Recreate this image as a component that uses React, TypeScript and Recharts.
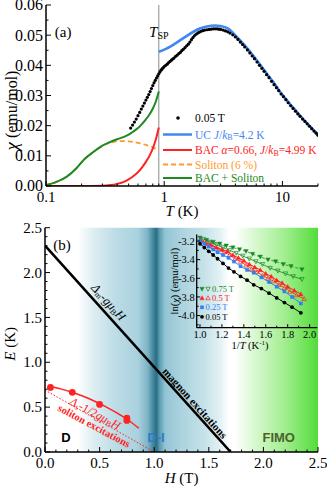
import React from 'react';
import {
  ComposedChart,
  Line,
  XAxis,
  YAxis,
  ReferenceLine,
  ReferenceArea,
  ReferenceDot,
} from 'recharts';

document.body.style.margin = '0';

const SERIF = '"Liberation Serif", "Times New Roman", serif';
const SANS = '"Liberation Sans", Arial, sans-serif';

// ---- panel (a): susceptibility vs T ----
const tMajor = [0.1, 1, 10];
const tMinor = [0.2, 0.3, 0.4, 0.5, 0.6, 0.7, 0.8, 0.9, 2, 3, 4, 5, 6, 7, 8, 9, 20];
const chiMajor = [0, 0.01, 0.02, 0.03, 0.04, 0.05, 0.06];
const chiMinor = [0.005, 0.015, 0.025, 0.035, 0.045, 0.055];
const tSP = 0.9;

const dotT = [
  0.52, 0.54, 0.56, 0.58, 0.6, 0.62, 0.64, 0.66, 0.68, 0.7, 0.72, 0.74, 0.76, 0.78, 0.8, 0.82,
  0.84, 0.86, 0.88, 0.9, 0.92, 0.94, 0.96, 0.98, 1.0, 1.03, 1.06, 1.09, 1.12, 1.15, 1.18, 1.21,
  1.25, 1.29, 1.33, 1.37, 1.41, 1.45, 1.5, 1.55, 1.6, 1.65, 1.7, 1.75, 1.8, 1.86, 1.92, 1.98,
  2.05, 2.12, 2.2, 2.3, 2.4, 2.5, 2.6, 2.7, 2.8, 2.9, 3.0, 3.15, 3.3, 3.45, 3.6, 3.8, 4.0, 4.2,
  4.4, 4.6, 4.8, 5.05, 5.3, 5.55, 5.8, 6.1, 6.4, 6.7, 7.0, 7.35, 7.7, 8.1, 8.5, 8.9, 9.3, 9.75,
  10.2, 10.7, 11.2, 11.75, 12.3, 12.9, 13.5, 14.1, 14.8, 15.5, 16.2, 16.95, 17.7, 18.5, 19.3, 20.0,
];
const dotChi = [
  0.0192, 0.0202, 0.0212, 0.0222, 0.0233, 0.0244, 0.0255, 0.0265, 0.0275, 0.0285, 0.0294, 0.0303,
  0.0313, 0.0323, 0.0333, 0.0342, 0.035, 0.0358, 0.0365, 0.0372, 0.0378, 0.0384, 0.0388, 0.0392,
  0.0396, 0.04, 0.0404, 0.0409, 0.0413, 0.0417, 0.0421, 0.0424, 0.043, 0.0434, 0.0439, 0.0443,
  0.0449, 0.0453, 0.0459, 0.0465, 0.047, 0.0477, 0.0485, 0.0492, 0.0498, 0.0503, 0.0507, 0.051,
  0.0513, 0.0515, 0.0517, 0.0518, 0.0519, 0.052, 0.0521, 0.0521, 0.0521, 0.052, 0.0519, 0.0517,
  0.0514, 0.0511, 0.0507, 0.0501, 0.0494, 0.0486, 0.0477, 0.0469, 0.0461, 0.0451, 0.0441, 0.0431,
  0.0422, 0.0411, 0.04, 0.039, 0.038, 0.0369, 0.0359, 0.0347, 0.0336, 0.0326, 0.0316, 0.0305,
  0.0296, 0.0286, 0.0276, 0.0266, 0.0257, 0.0248, 0.0239, 0.0231, 0.0222, 0.0214, 0.0206, 0.0198,
  0.019, 0.0182, 0.0175, 0.0168,
];
const dots005 = dotT.map((t, i) => ({ t, chi: dotChi[i] }));

const ucFit = [
  { t: 0.9, chi: 0.0445 }, { t: 1.0, chi: 0.0452 }, { t: 1.2, chi: 0.0469 },
  { t: 1.4, chi: 0.0486 }, { t: 1.6, chi: 0.0501 }, { t: 1.8, chi: 0.0513 },
  { t: 2.0, chi: 0.0522 }, { t: 2.3, chi: 0.0529 }, { t: 2.7, chi: 0.0532 },
  { t: 3.0, chi: 0.053 }, { t: 3.5, chi: 0.0521 }, { t: 4.0, chi: 0.0499 },
  { t: 5.0, chi: 0.0458 }, { t: 6.0, chi: 0.0419 }, { t: 7.0, chi: 0.0384 },
  { t: 8.5, chi: 0.0341 }, { t: 10, chi: 0.0302 }, { t: 12, chi: 0.0265 },
  { t: 15, chi: 0.0222 }, { t: 20, chi: 0.017 },
];

const bacFit = [
  { t: 0.1, chi: 0.0 }, { t: 0.2, chi: 0.0 }, { t: 0.3, chi: 0.0001 },
  { t: 0.35, chi: 0.0003 }, { t: 0.4, chi: 0.0007 }, { t: 0.45, chi: 0.0013 },
  { t: 0.5, chi: 0.0022 }, { t: 0.55, chi: 0.0033 }, { t: 0.6, chi: 0.0046 },
  { t: 0.65, chi: 0.0062 }, { t: 0.7, chi: 0.008 }, { t: 0.75, chi: 0.01 },
  { t: 0.8, chi: 0.0124 }, { t: 0.85, chi: 0.0155 }, { t: 0.9, chi: 0.0194 },
];

const solitonFit = [
  { t: 0.1, chi: 0.0003 }, { t: 0.12, chi: 0.0012 }, { t: 0.15, chi: 0.0031 },
  { t: 0.18, chi: 0.0058 }, { t: 0.21, chi: 0.0088 }, { t: 0.25, chi: 0.0112 },
  { t: 0.3, chi: 0.0133 }, { t: 0.35, chi: 0.0143 }, { t: 0.4, chi: 0.0148 },
  { t: 0.45, chi: 0.0149 }, { t: 0.5, chi: 0.0148 }, { t: 0.6, chi: 0.0143 },
  { t: 0.7, chi: 0.0136 }, { t: 0.8, chi: 0.0128 }, { t: 0.9, chi: 0.0119 },
];

const sumFit = [
  { t: 0.1, chi: 0.0003 }, { t: 0.12, chi: 0.0012 }, { t: 0.15, chi: 0.0031 },
  { t: 0.18, chi: 0.0058 }, { t: 0.21, chi: 0.0088 }, { t: 0.25, chi: 0.0112 },
  { t: 0.3, chi: 0.0134 }, { t: 0.35, chi: 0.0146 }, { t: 0.4, chi: 0.0155 },
  { t: 0.45, chi: 0.0162 }, { t: 0.5, chi: 0.017 }, { t: 0.55, chi: 0.0181 },
  { t: 0.6, chi: 0.0192 }, { t: 0.65, chi: 0.0206 }, { t: 0.7, chi: 0.0221 },
  { t: 0.75, chi: 0.0237 }, { t: 0.8, chi: 0.0256 }, { t: 0.85, chi: 0.028 },
  { t: 0.9, chi: 0.0313 },
];

// ---- panel (b): E vs H phase diagram ----
const hMajor = [0, 0.5, 1, 1.5, 2, 2.5];
const hMinor = [0.1, 0.2, 0.3, 0.4, 0.6, 0.7, 0.8, 0.9, 1.1, 1.2, 1.3, 1.4, 1.6, 1.7, 1.8, 1.9, 2.1, 2.2, 2.3, 2.4];
const eMajor = [0, 0.5, 1, 1.5, 2, 2.5];
const eMinor = hMinor;

const magnonLine = [{ h: 0, e: 2.3 }, { h: 1.7, e: 0 }];
const solitonLine = [{ h: 0, e: 0.69 }, { h: 1.0, e: 0 }];
const solitonCurve = [
  { h: 0.05, e: 0.729 }, { h: 0.15, e: 0.701 }, { h: 0.25, e: 0.665 },
  { h: 0.35, e: 0.621 }, { h: 0.45, e: 0.569 }, { h: 0.55, e: 0.509 },
  { h: 0.65, e: 0.441 }, { h: 0.75, e: 0.365 }, { h: 0.86, e: 0.265 },
];
const solitonGaps = [
  { h: 0.05, e: 0.72 }, { h: 0.25, e: 0.665 }, { h: 0.5, e: 0.53 },
  { h: 0.75, e: 0.378 }, { h: 0.75, e: 0.352 },
];

// ---- inset: ln(chi) vs 1/T ----
const invMajor = [1.0, 1.2, 1.4, 1.6, 1.8, 2.0];
const invMinor = [1.1, 1.3, 1.5, 1.7, 1.9];
const lnMajor = [-4.0, -3.8, -3.6, -3.4, -3.2];
const lnMinor = [-4.1, -3.9, -3.7, -3.5, -3.3];

const ln005 = [
  { x: 1.0, y: -3.23 }, { x: 1.04, y: -3.27 }, { x: 1.08, y: -3.31 }, { x: 1.12, y: -3.35 },
  { x: 1.16, y: -3.39 }, { x: 1.21, y: -3.44 }, { x: 1.26, y: -3.49 }, { x: 1.31, y: -3.53 },
  { x: 1.37, y: -3.58 }, { x: 1.43, y: -3.62 }, { x: 1.49, y: -3.67 }, { x: 1.56, y: -3.71 },
  { x: 1.63, y: -3.76 }, { x: 1.7, y: -3.81 }, { x: 1.77, y: -3.86 }, { x: 1.84, y: -3.91 },
  { x: 1.92, y: -3.97 },
];
const ln025 = [
  { x: 1.0, y: -3.2 }, { x: 1.04, y: -3.23 }, { x: 1.08, y: -3.26 }, { x: 1.12, y: -3.29 },
  { x: 1.16, y: -3.32 }, { x: 1.21, y: -3.35 }, { x: 1.26, y: -3.38 }, { x: 1.31, y: -3.42 },
  { x: 1.37, y: -3.47 }, { x: 1.43, y: -3.51 }, { x: 1.49, y: -3.54 }, { x: 1.56, y: -3.59 },
  { x: 1.63, y: -3.64 }, { x: 1.7, y: -3.69 }, { x: 1.77, y: -3.74 }, { x: 1.84, y: -3.8 },
  { x: 1.92, y: -3.87 },
];
const ln05 = [
  { x: 1.0, y: -3.19 }, { x: 1.05, y: -3.22 }, { x: 1.1, y: -3.24 }, { x: 1.15, y: -3.27 },
  { x: 1.2, y: -3.29 }, { x: 1.25, y: -3.31 }, { x: 1.3, y: -3.35 }, { x: 1.35, y: -3.38 },
  { x: 1.4, y: -3.41 }, { x: 1.45, y: -3.45 }, { x: 1.5, y: -3.48 }, { x: 1.55, y: -3.51 },
  { x: 1.6, y: -3.55 }, { x: 1.65, y: -3.58 }, { x: 1.7, y: -3.62 }, { x: 1.75, y: -3.65 },
  { x: 1.8, y: -3.69 }, { x: 1.86, y: -3.73 }, { x: 1.92, y: -3.77 },
];
const ln05open = [
  { x: 1.02, y: -3.2 }, { x: 1.07, y: -3.23 }, { x: 1.12, y: -3.26 }, { x: 1.17, y: -3.29 },
  { x: 1.22, y: -3.32 }, { x: 1.27, y: -3.35 }, { x: 1.32, y: -3.39 }, { x: 1.37, y: -3.42 },
  { x: 1.42, y: -3.46 }, { x: 1.47, y: -3.5 }, { x: 1.52, y: -3.53 }, { x: 1.57, y: -3.57 },
  { x: 1.62, y: -3.6 }, { x: 1.67, y: -3.63 }, { x: 1.72, y: -3.67 }, { x: 1.77, y: -3.7 },
  { x: 1.82, y: -3.74 }, { x: 1.88, y: -3.78 }, { x: 1.95, y: -3.82 },
];
const ln075 = [
  { x: 1.0, y: -3.165 }, { x: 1.06, y: -3.19 }, { x: 1.12, y: -3.21 }, { x: 1.18, y: -3.23 },
  { x: 1.24, y: -3.25 }, { x: 1.3, y: -3.27 }, { x: 1.36, y: -3.29 }, { x: 1.42, y: -3.31 },
  { x: 1.48, y: -3.34 }, { x: 1.55, y: -3.37 }, { x: 1.62, y: -3.4 }, { x: 1.69, y: -3.42 },
  { x: 1.76, y: -3.45 }, { x: 1.83, y: -3.47 }, { x: 1.93, y: -3.505 },
];
const ln075open = [
  { x: 1.03, y: -3.18 }, { x: 1.09, y: -3.21 }, { x: 1.15, y: -3.24 }, { x: 1.21, y: -3.27 },
  { x: 1.27, y: -3.3 }, { x: 1.33, y: -3.33 }, { x: 1.39, y: -3.36 }, { x: 1.45, y: -3.39 },
  { x: 1.51, y: -3.42 }, { x: 1.57, y: -3.45 }, { x: 1.64, y: -3.49 }, { x: 1.71, y: -3.52 },
  { x: 1.78, y: -3.55 }, { x: 1.85, y: -3.58 }, { x: 1.93, y: -3.61 },
];

const C = {
  blue: '#3f87f2',
  red: '#ff2222',
  orange: '#ff9a2e',
  green: '#1b8a22',
  insetBlue: '#2f7ff5',
  insetGreen: '#178a24',
};

const axisLine = { stroke: '#000', strokeWidth: 1.5 };

type Side = 'bottom' | 'top' | 'left' | 'right';
interface TickOpts {
  majors: number[];
  major: number;
  minor: number;
  fmt?: (v: number) => string;
  fontSize?: number;
  offset?: number;
}

// inward ticks, longer for majors, labels only on majors
function makeTick(side: Side, o: TickOpts) {
  return (props: any) => {
    const { x, y, payload } = props;
    const v = payload.value as number;
    const isMajor = o.majors.some((m) => Math.abs(m - v) < 1e-9);
    const len = isMajor ? o.major : o.minor;
    const fs = o.fontSize ?? 15;
    const off = o.offset ?? 4;
    const label = isMajor && o.fmt ? o.fmt(v) : null;
    const ln = { stroke: '#000', strokeWidth: 1 };
    if (side === 'bottom') {
      return (
        <g>
          <line x1={x} x2={x} y1={y} y2={y - len} {...ln} />
          {label !== null && (
            <text x={x} y={y + off + fs * 0.34} textAnchor="middle" fontSize={fs} fontFamily={SERIF} fill="#000">
              {label}
            </text>
          )}
        </g>
      );
    }
    if (side === 'top') return <line x1={x} x2={x} y1={y} y2={y + len} {...ln} />;
    if (side === 'left') {
      return (
        <g>
          <line x1={x} x2={x + len} y1={y} y2={y} {...ln} />
          {label !== null && (
            <text x={x - off} y={y + fs * 0.34} textAnchor="end" fontSize={fs} fontFamily={SERIF} fill="#000">
              {label}
            </text>
          )}
        </g>
      );
    }
    return <line x1={x} x2={x - len} y1={y} y2={y} {...ln} />;
  };
}

function note(x: number, y: number, content: (p: any) => React.ReactNode, key: string) {
  return (
    <ReferenceDot key={key} x={x} y={y} r={0} fill="none" stroke="none" ifOverflow="visible" label={content} />
  );
}

function textAt(children: React.ReactNode, style: any, angle = 0) {
  return (p: any) => {
    const { x, y } = p.viewBox;
    return (
      <text
        x={x}
        y={y}
        textAnchor="middle"
        dominantBaseline="central"
        transform={angle ? `rotate(${angle} ${x} ${y})` : undefined}
        {...style}
      >
        {children}
      </text>
    );
  };
}

function Marker({ cx, cy, kind, color }: { cx: number; cy: number; kind: string; color: string }) {
  if (cx == null || cy == null) return null;
  const s = 2.2;
  if (kind === 'circle') return <circle cx={cx} cy={cy} r={1.9} fill={color} />;
  if (kind === 'square') return <rect x={cx - 1.8} y={cy - 1.8} width={3.6} height={3.6} fill={color} />;
  const up = kind.startsWith('up');
  const open = kind.endsWith('open');
  const pts = up
    ? `${cx},${cy - s} ${cx - s},${cy + s * 0.8} ${cx + s},${cy + s * 0.8}`
    : `${cx},${cy + s} ${cx - s},${cy - s * 0.8} ${cx + s},${cy - s * 0.8}`;
  return <polygon points={pts} fill={open ? 'none' : color} stroke={color} strokeWidth={open ? 0.7 : 0.4} />;
}

function markerDot(kind: string, color: string) {
  return (p: any) => <Marker key={p.index} cx={p.cx} cy={p.cy} kind={kind} color={color} />;
}

function PanelA() {
  return (
    <ComposedChart width={327} height={222} margin={{ top: 5, right: 9, left: 0, bottom: 0 }}>
      <XAxis
        dataKey="t"
        type="number"
        scale="log"
        domain={[0.1, 20]}
        allowDataOverflow
        ticks={[...tMajor, ...tMinor]}
        interval={0}
        tickSize={0}
        tickMargin={0}
        tickLine={false}
        axisLine={axisLine}
        height={36}
        tick={makeTick('bottom', { majors: tMajor, major: 5, minor: 2.5, fmt: (v) => String(v), fontSize: 15, offset: 11 })}
        label={(p: any) => {
          const vb = p.viewBox;
          return (
            <text x={vb.x + vb.width / 2} y={vb.y + 30} textAnchor="middle" fontSize={15} fontFamily={SERIF}>
              <tspan fontStyle="italic">T</tspan> (K)
            </text>
          );
        }}
      />
      <XAxis
        xAxisId="top"
        orientation="top"
        type="number"
        scale="log"
        domain={[0.1, 20]}
        allowDataOverflow
        ticks={[...tMajor, ...tMinor]}
        interval={0}
        tickSize={0}
        tickMargin={0}
        tickLine={false}
        axisLine={axisLine}
        height={0}
        tick={makeTick('top', { majors: tMajor, major: 5, minor: 2.5 })}
      />
      <YAxis
        type="number"
        domain={[0, 0.06]}
        allowDataOverflow
        ticks={[...chiMajor, ...chiMinor]}
        interval={0}
        tickSize={0}
        tickMargin={0}
        tickLine={false}
        axisLine={axisLine}
        width={46}
        tick={makeTick('left', { majors: chiMajor, major: 5, minor: 2.5, fmt: (v) => v.toFixed(2), fontSize: 16, offset: 3 })}
        label={(p: any) => {
          const vb = p.viewBox;
          const x = vb.x + 11;
          const y = vb.y + vb.height / 2 + 15;
          return (
            <text x={x} y={y} transform={`rotate(-90 ${x} ${y})`} textAnchor="middle" dominantBaseline="central" fontSize={16} fontFamily={SERIF}>
              <tspan fontStyle="italic" fontSize={19}>χ</tspan> (emu/mol)
            </text>
          );
        }}
      />
      <YAxis
        yAxisId="right"
        orientation="right"
        type="number"
        domain={[0, 0.06]}
        allowDataOverflow
        ticks={[...chiMajor, ...chiMinor]}
        interval={0}
        tickSize={0}
        tickMargin={0}
        tickLine={false}
        axisLine={axisLine}
        width={0}
        tick={makeTick('right', { majors: chiMajor, major: 5, minor: 2.5 })}
      />
      <ReferenceLine x={tSP} stroke="#8a8a8a" strokeWidth={1} />
      <Line data={solitonFit} dataKey="chi" type="monotone" stroke={C.orange} strokeWidth={1.8} strokeDasharray="5 3" dot={false} isAnimationActive={false} />
      <Line data={sumFit} dataKey="chi" type="monotone" stroke={C.green} strokeWidth={2} dot={false} isAnimationActive={false} />
      <Line data={bacFit} dataKey="chi" type="monotone" stroke={C.red} strokeWidth={2} dot={false} isAnimationActive={false} />
      <Line data={ucFit} dataKey="chi" type="monotone" stroke={C.blue} strokeWidth={2.6} dot={false} isAnimationActive={false} />
      <Line data={dots005} dataKey="chi" stroke="none" dot={{ r: 1.6, fill: '#000', stroke: 'none' }} isAnimationActive={false} />
      {note(0.1395, 0.0512, textAt('(a)', { fontSize: 15, fontFamily: SERIF }), 'a')}
      {note(tSP, 0.0512, textAt(
        <>
          <tspan fontStyle="italic">T</tspan>
          <tspan fontSize={10} dy={3}>SP</tspan>
        </>,
        { fontSize: 15, fontFamily: SERIF }
      ), 'tsp')}
    </ComposedChart>
  );
}

function LegendA() {
  const rows = [118, 134.5, 150, 164.5, 178];
  const tx = 195;
  const fs = 11.5;
  const tprops = { fontSize: fs, fontFamily: SERIF, dominantBaseline: 'central' as const };
  return (
    <svg width={327} height={222} style={{ position: 'absolute', left: 0, top: 0, pointerEvents: 'none' }}>
      <circle cx={178} cy={rows[0]} r={1.8} fill="#000" />
      <text x={tx} y={rows[0]} fill="#000" {...tprops}>0.05 T</text>
      <line x1={163} x2={192} y1={rows[1]} y2={rows[1]} stroke={C.blue} strokeWidth={2.5} />
      <text x={tx} y={rows[1]} fill={C.blue} {...tprops}>
        UC <tspan fontStyle="italic">J</tspan>/<tspan fontStyle="italic">k</tspan>
        <tspan fontSize={8} dy={2.5}>B</tspan><tspan dy={-2.5}>=4.2 K</tspan>
      </text>
      <line x1={163} x2={192} y1={rows[2]} y2={rows[2]} stroke={C.red} strokeWidth={2} />
      <text x={tx} y={rows[2]} fill={C.red} {...tprops}>
        BAC <tspan fontStyle="italic">α</tspan>=0.66, <tspan fontStyle="italic">J</tspan>/<tspan fontStyle="italic">k</tspan>
        <tspan fontSize={8} dy={2.5}>B</tspan><tspan dy={-2.5}>=4.99 K</tspan>
      </text>
      <line x1={163} x2={192} y1={rows[3]} y2={rows[3]} stroke={C.orange} strokeWidth={1.8} strokeDasharray="5 3" />
      <text x={tx} y={rows[3]} fill={C.orange} {...tprops}>Soliton (6 %)</text>
      <line x1={163} x2={192} y1={rows[4]} y2={rows[4]} stroke={C.green} strokeWidth={2} />
      <text x={tx} y={rows[4]} fill={C.green} {...tprops}>BAC + Soliton</text>
    </svg>
  );
}

function PanelB() {
  const serifBold = { fontFamily: SERIF, fontWeight: 700 };
  return (
    <ComposedChart width={327} height={264} margin={{ top: 5.7, right: 9, left: 0, bottom: 0 }}>
      <defs>
        <linearGradient id="phaseBg" x1="0" y1="0" x2="1" y2="0">
          <stop offset="0" stopColor="#ffffff" />
          <stop offset="0.12" stopColor="#ffffff" />
          <stop offset="0.18" stopColor="#dcedf2" />
          <stop offset="0.26" stopColor="#bcdce6" />
          <stop offset="0.34" stopColor="#a9d1dd" />
          <stop offset="0.375" stopColor="#7fb5c7" />
          <stop offset="0.398" stopColor="#3f8299" />
          <stop offset="0.408" stopColor="#2c6d84" />
          <stop offset="0.42" stopColor="#5a9db2" />
          <stop offset="0.44" stopColor="#93c4d3" />
          <stop offset="0.5" stopColor="#acd3de" />
          <stop offset="0.58" stopColor="#c4e1e8" />
          <stop offset="0.64" stopColor="#e2f1f4" />
          <stop offset="0.675" stopColor="#ffffff" />
          <stop offset="0.695" stopColor="#ffffff" />
          <stop offset="0.78" stopColor="#d2f7c9" />
          <stop offset="0.88" stopColor="#a0ee8e" />
          <stop offset="1" stopColor="#52dc3a" />
        </linearGradient>
      </defs>
      <XAxis
        dataKey="h"
        type="number"
        domain={[0, 2.5]}
        allowDataOverflow
        ticks={[...hMajor, ...hMinor]}
        interval={0}
        tickSize={0}
        tickMargin={0}
        tickLine={false}
        axisLine={axisLine}
        height={34}
        tick={makeTick('bottom', { majors: hMajor, major: 5, minor: 2.5, fmt: (v) => v.toFixed(1), fontSize: 15, offset: 11 })}
        label={(p: any) => {
          const vb = p.viewBox;
          return (
            <text x={vb.x + vb.width / 2} y={vb.y + 31} textAnchor="middle" fontSize={15} fontFamily={SERIF}>
              <tspan fontStyle="italic">H</tspan> (T)
            </text>
          );
        }}
      />
      <XAxis
        xAxisId="top"
        orientation="top"
        type="number"
        domain={[0, 2.5]}
        allowDataOverflow
        ticks={[...hMajor, ...hMinor]}
        interval={0}
        tickSize={0}
        tickMargin={0}
        tickLine={false}
        axisLine={axisLine}
        height={0}
        tick={makeTick('top', { majors: hMajor, major: 5, minor: 2.5 })}
      />
      <YAxis
        type="number"
        domain={[0, 2.5]}
        allowDataOverflow
        ticks={[...eMajor, ...eMinor]}
        interval={0}
        tickSize={0}
        tickMargin={0}
        tickLine={false}
        axisLine={axisLine}
        width={45}
        tick={makeTick('left', { majors: eMajor, major: 5, minor: 2.5, fmt: (v) => v.toFixed(1), fontSize: 15, offset: 3 })}
        label={(p: any) => {
          const vb = p.viewBox;
          const x = vb.x + 10;
          const y = vb.y + vb.height / 2 + 4;
          return (
            <text x={x} y={y} transform={`rotate(-90 ${x} ${y})`} textAnchor="middle" dominantBaseline="central" fontSize={15} fontFamily={SERIF}>
              <tspan fontStyle="italic">E</tspan> (K)
            </text>
          );
        }}
      />
      <YAxis
        yAxisId="right"
        orientation="right"
        type="number"
        domain={[0, 2.5]}
        allowDataOverflow
        ticks={[...eMajor, ...eMinor]}
        interval={0}
        tickSize={0}
        tickMargin={0}
        tickLine={false}
        axisLine={axisLine}
        width={0}
        tick={makeTick('right', { majors: eMajor, major: 5, minor: 2.5 })}
      />
      <ReferenceArea x1={0} x2={2.5} y1={0} y2={2.5} fill="url(#phaseBg)" fillOpacity={1} stroke="none" />
      <Line data={solitonLine} dataKey="e" type="linear" stroke={C.red} strokeWidth={1} strokeDasharray="1.5 1.8" dot={false} isAnimationActive={false} />
      <Line data={solitonCurve} dataKey="e" type="monotone" stroke={C.red} strokeWidth={1.5} dot={false} isAnimationActive={false} />
      <Line data={solitonGaps} dataKey="e" stroke="none" dot={{ r: 3.4, fill: C.red, stroke: 'none' }} isAnimationActive={false} />
      <Line data={magnonLine} dataKey="e" type="linear" stroke="#000" strokeWidth={2.6} dot={false} isAnimationActive={false} />
      {note(0.156, 2.31, textAt('(b)', { fontSize: 15, fontFamily: SERIF }), 'b')}
      {note(0.58, 1.67, textAt(
        <>
          <tspan fontStyle="italic">Δ</tspan>
          <tspan fontSize={8} dy={2.5}>m</tspan>
          <tspan dy={-2.5}>-</tspan>
          <tspan fontStyle="italic">gμ</tspan>
          <tspan fontSize={8} dy={2.5}>B</tspan>
          <tspan dy={-2.5} fontStyle="italic">H</tspan>
        </>,
        { fontSize: 12.5, fontFamily: SERIF, fill: '#000' },
        48
      ), 'dm')}
      {note(1.374, 0.546, textAt('magnon excitations', { fontSize: 11, fill: '#000', ...serifBold }, 48), 'mag')}
      {note(0.46, 0.43, textAt(
        <>
          <tspan fontStyle="italic">Δ</tspan>
          <tspan fontSize={8} dy={2.5}>s</tspan>
          <tspan dy={-2.5}>-1/2</tspan>
          <tspan fontStyle="italic">gμ</tspan>
          <tspan fontSize={8} dy={2.5}>B</tspan>
          <tspan dy={-2.5} fontStyle="italic">H</tspan>
        </>,
        { fontSize: 12, fontFamily: SERIF, fill: C.red },
        28
      ), 'ds')}
      {note(0.45, 0.29, textAt('soliton excitations', { fontSize: 10.5, fill: C.red, ...serifBold }, 28), 'sol')}
      {note(0.192, 0.167, textAt('D', { fontSize: 13, fontFamily: SANS, fontWeight: 700, fill: '#000' }), 'D')}
      {note(1.016, 0.167, textAt('D-I', { fontSize: 13, fontFamily: SANS, fontWeight: 700, fill: '#2a7fc8' }), 'DI')}
      {note(2.14, 0.167, textAt('FIMO', { fontSize: 13, fontFamily: SANS, fontWeight: 700, fill: '#4a6328' }), 'FIMO')}
    </ComposedChart>
  );
}

function Inset() {
  return (
    <ComposedChart width={160} height={125} margin={{ top: 6.5, right: 2.7, left: 0, bottom: 0 }}>
      <XAxis
        dataKey="x"
        type="number"
        domain={[0.97, 2.07]}
        allowDataOverflow
        ticks={[...invMajor, ...invMinor]}
        interval={0}
        tickSize={0}
        tickMargin={0}
        tickLine={false}
        axisLine={{ stroke: '#000', strokeWidth: 1.3 }}
        height={25.3}
        tick={makeTick('bottom', { majors: invMajor, major: 3.5, minor: 2, fmt: (v) => v.toFixed(1), fontSize: 10.5, offset: 6.5 })}
        label={(p: any) => {
          const vb = p.viewBox;
          return (
            <text x={vb.x + vb.width / 2 - 7} y={vb.y + 20.8} textAnchor="middle" fontSize={10.5} fontFamily={SERIF}>
              1/<tspan fontStyle="italic">T</tspan> (K<tspan fontSize={7} dy={-4}>-1</tspan><tspan dy={4}>)</tspan>
            </text>
          );
        }}
      />
      <XAxis
        xAxisId="top"
        orientation="top"
        type="number"
        domain={[0.97, 2.07]}
        allowDataOverflow
        ticks={[...invMajor, ...invMinor]}
        interval={0}
        tickSize={0}
        tickMargin={0}
        tickLine={false}
        axisLine={{ stroke: '#000', strokeWidth: 1.3 }}
        height={0}
        tick={makeTick('top', { majors: invMajor, major: 3.5, minor: 2 })}
      />
      <YAxis
        type="number"
        domain={[-4.13, -3.13]}
        allowDataOverflow
        ticks={[...lnMajor, ...lnMinor]}
        interval={0}
        tickSize={0}
        tickMargin={0}
        tickLine={false}
        axisLine={{ stroke: '#000', strokeWidth: 1.3 }}
        width={36.7}
        tick={makeTick('left', { majors: lnMajor, major: 3.5, minor: 2, fmt: (v) => v.toFixed(1), fontSize: 10.5, offset: 2 })}
        label={(p: any) => {
          const vb = p.viewBox;
          const x = vb.x + 15;
          const y = vb.y + vb.height / 2;
          return (
            <text x={x} y={y} transform={`rotate(-90 ${x} ${y})`} textAnchor="middle" dominantBaseline="central" fontSize={10.5} fontFamily={SERIF}>
              ln(<tspan fontStyle="italic">χ</tspan>) (emu/mol)
            </text>
          );
        }}
      />
      <YAxis
        yAxisId="right"
        orientation="right"
        type="number"
        domain={[-4.13, -3.13]}
        allowDataOverflow
        ticks={[...lnMajor, ...lnMinor]}
        interval={0}
        tickSize={0}
        tickMargin={0}
        tickLine={false}
        axisLine={{ stroke: '#000', strokeWidth: 1.3 }}
        width={0}
        tick={makeTick('right', { majors: lnMajor, major: 3.5, minor: 2 })}
      />
      <Line data={ln075open} dataKey="y" type="linear" stroke={C.insetGreen} strokeWidth={0.8} dot={markerDot('down-open', C.insetGreen)} isAnimationActive={false} />
      <Line data={ln075} dataKey="y" type="linear" stroke={C.insetGreen} strokeWidth={0.8} strokeDasharray="3 2" dot={markerDot('down', C.insetGreen)} isAnimationActive={false} />
      <Line data={ln05open} dataKey="y" type="linear" stroke={C.red} strokeWidth={0.8} dot={markerDot('up-open', C.red)} isAnimationActive={false} />
      <Line data={ln05} dataKey="y" type="linear" stroke={C.red} strokeWidth={1} dot={markerDot('up', C.red)} isAnimationActive={false} />
      <Line data={ln025} dataKey="y" type="linear" stroke={C.insetBlue} strokeWidth={1} dot={markerDot('square', C.insetBlue)} isAnimationActive={false} />
      <Line data={ln005} dataKey="y" type="linear" stroke="#000" strokeWidth={1} dot={markerDot('circle', '#000')} isAnimationActive={false} />
    </ComposedChart>
  );
}

function InsetLegend() {
  const rows = [289, 298, 307.3, 316.8];
  const fs = 8.5;
  const t = { fontSize: fs, fontFamily: SERIF, dominantBaseline: 'central' as const };
  return (
    <svg width={327} height={486} style={{ position: 'absolute', left: 0, top: 0, pointerEvents: 'none' }}>
      <Marker cx={202} cy={rows[0]} kind="down" color={C.insetGreen} />
      <Marker cx={208} cy={rows[0]} kind="down-open" color={C.insetGreen} />
      <text x={212} y={rows[0]} fill={C.insetGreen} {...t}>0.75 T</text>
      <Marker cx={202} cy={rows[1]} kind="up" color={C.red} />
      <Marker cx={208} cy={rows[1]} kind="up-open" color={C.red} />
      <text x={212} y={rows[1]} fill={C.red} {...t}>0.5 T</text>
      <Marker cx={202} cy={rows[2]} kind="square" color={C.insetBlue} />
      <text x={205.5} y={rows[2]} fill={C.insetBlue} {...t}>0.25 T</text>
      <Marker cx={202} cy={rows[3]} kind="circle" color="#000" />
      <text x={205.5} y={rows[3]} fill="#000" {...t}>0.05 T</text>
    </svg>
  );
}

export default function App() {
  return (
    <div style={{ position: 'relative', width: 327, height: 486, background: '#fff', overflow: 'hidden' }}>
      <div style={{ position: 'absolute', left: 0, top: 0 }}>
        <PanelA />
      </div>
      <LegendA />
      <div style={{ position: 'absolute', left: 0, top: 222 }}>
        <PanelB />
      </div>
      <div style={{ position: 'absolute', left: 160, top: 228 }}>
        <Inset />
      </div>
      <InsetLegend />
    </div>
  );
}
